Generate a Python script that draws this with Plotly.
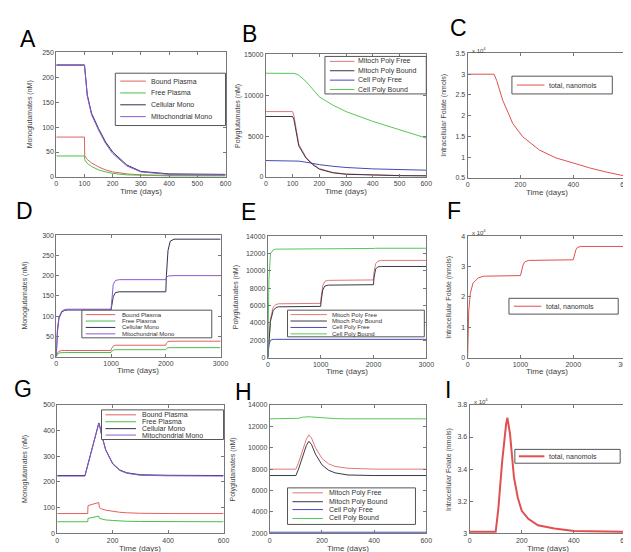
import plotly.graph_objects as go

W, H = 631, 552
FONT = "Liberation Sans, Arial, sans-serif"

# ---------------- data ----------------
mono_names = ["Bound Plasma", "Free Plasma", "Cellular Mono", "Mitochondrial Mono"]
poly_names = ["Mitoch Poly Free", "Mitoch Poly Bound", "Cell Poly Free", "Cell Poly Bound"]
total_name = "total, nanomols"

# Panel A (monoglutamates, 600 days)
t_a = [0, 100, 101, 110, 125, 150, 175, 200, 250, 300, 400, 500, 600]
a_bound = [80, 80, 42, 35, 28, 20, 14, 10, 6, 4, 3, 3, 3]
a_free = [42, 42, 34, 27, 21, 14, 10, 7, 4, 3, 2, 2, 2]
a_cell = [225, 225, 220, 165, 128, 97, 70, 50, 24, 11, 6, 5, 5]
a_mito = [224, 224, 218, 162, 125, 94, 67, 47, 22, 10, 5, 4, 4]

# Panel B (polyglutamates, 600 days)
t_b = [0, 100, 105, 113, 123, 150, 175, 200, 250, 300, 400, 500, 600]
b_mfree = [8000, 8000, 7500, 6100, 4000, 2400, 1600, 1000, 550, 350, 220, 160, 140]
b_mbound = [7400, 7400, 7000, 5700, 3800, 2300, 1500, 950, 500, 320, 200, 150, 130]
b_cfree = [2000, 2000, 1990, 1970, 1930, 1800, 1650, 1500, 1300, 1150, 980, 880, 820]
b_cbound = [12700, 12700, 12680, 12600, 12450, 11700, 10800, 9800, 8800, 8000, 6800, 5800, 4750]

# Panel C (total folate, x10^4 nmols)
t_c = [0, 100, 110, 133, 171, 209, 272, 335, 399, 462, 525, 600]
c_total = [3.0, 3.0, 2.85, 2.37, 1.81, 1.49, 1.17, 0.98, 0.86, 0.74, 0.64, 0.54]

# Panel D (monoglutamates, 3000 days)
t_d = [0, 20, 50, 100, 150, 200, 1000, 1010, 1040, 1080, 1150, 2000, 2010, 2040, 2080, 2150, 3000]
d_bound = [0, 9, 13, 15, 15, 15, 15, 20, 26, 28, 28, 28, 33, 37, 38, 38, 38]
d_free = [0, 6, 9, 10, 10, 10, 10, 13, 16, 17, 17, 17, 20, 22, 22, 22, 22]
d_cell = [0, 60, 95, 110, 114, 115, 115, 125, 148, 158, 160, 160, 200, 262, 285, 290, 290]
d_mito = [0, 65, 98, 112, 116, 117, 117, 140, 178, 188, 190, 190, 195, 199, 200, 200, 200]

# Panel E (polyglutamates, 3000 days)
t_e = [0, 20, 50, 100, 150, 200, 1000, 1010, 1040, 1080, 1150, 2000, 2010, 2040, 2080, 2150, 3000]
e_mfree = [0, 2500, 4500, 5800, 6100, 6200, 6250, 7000, 8300, 8800, 8900, 8950, 9800, 10800, 11100, 11200, 11200]
e_mbound = [0, 2300, 4200, 5400, 5750, 5850, 5900, 6600, 7800, 8250, 8350, 8400, 9200, 10200, 10450, 10500, 10500]
e_cfree = [0, 1500, 2000, 2100, 2100, 2100, 2100, 2100, 2100, 2100, 2100, 2100, 2100, 2100, 2100, 2100, 2100]
e_cbound = [0, 9000, 12000, 12400, 12500, 12500, 12500, 12520, 12540, 12550, 12550, 12560, 12580, 12600, 12600, 12600, 12600]

# Panel F (total folate, x10^4 nmols)
t_f = [0, 10, 20, 50, 100, 200, 300, 1000, 1020, 1050, 1080, 1150, 2000, 2020, 2050, 2080, 2150, 3000]
f_total = [0, 0.9, 1.5, 2.1, 2.45, 2.62, 2.68, 2.70, 2.85, 3.05, 3.15, 3.20, 3.22, 3.37, 3.55, 3.63, 3.66, 3.66]

# Panel G (monoglutamates, pulse)
t_g = [0, 100, 110, 111, 125, 140, 150, 152, 160, 175, 200, 225, 250, 300, 400, 600]
g_bound = [77, 77, 77, 108, 112, 116, 120, 100, 95, 90, 85, 82, 80, 78, 77, 77]
g_free = [45, 45, 45, 58, 61, 64, 67, 58, 55, 52, 50, 48, 47, 46, 45, 45]
g_cell = [225, 225, 266, 270, 327, 389, 430, 425, 385, 325, 272, 247, 236, 228, 226, 225]
g_mito = [223, 223, 264, 268, 325, 387, 428, 423, 383, 323, 270, 245, 234, 226, 224, 223]

# Panel H (polyglutamates, pulse)
t_h = [0, 100, 110, 125, 140, 150, 160, 175, 200, 225, 250, 300, 400, 600]
h_mfree = [8000, 8000, 8600, 9800, 10800, 11200, 10900, 10000, 9000, 8500, 8250, 8080, 8000, 8000]
h_mbound = [7400, 7400, 8000, 9200, 10200, 10600, 10300, 9400, 8400, 7900, 7650, 7450, 7400, 7400]
h_cfree = [2100, 2100, 2100, 2100, 2100, 2100, 2100, 2100, 2100, 2100, 2100, 2100, 2100, 2100]
h_cbound = [12700, 12700, 12750, 12850, 12900, 12900, 12880, 12850, 12800, 12750, 12720, 12700, 12700, 12700]

# Panel I (total folate, x10^4 nmols)
t_i = [0, 100, 110, 125, 140, 145, 155, 170, 185, 200, 225, 262, 325, 400, 600]
i_total = [3.01, 3.01, 3.15, 3.45, 3.68, 3.72, 3.62, 3.35, 3.22, 3.14, 3.09, 3.05, 3.03, 3.015, 3.01]

mono_colors = ["#e06060", "#48c048", "#303050", "#8a5ad0"]
poly_colors = ["#e07878", "#383848", "#4848b8", "#58c858"]
total_color = "#e05050"

# ---------------- layout helpers ----------------
def px_x(x):
    return x / W

def px_y(y):
    return 1 - y / H

boxes = {
    "A": (47, 41, 219, 167), "B": (260, 43, 423, 167), "C": (465, 42, 626, 168),
    "D": (47, 226, 214, 349), "E": (262, 227, 423, 350), "F": (465, 227, 626, 350),
    "G": (48, 398, 217, 528), "H": (264, 398, 423, 528), "I": (467, 398, 626, 528),
}
order = ["A", "B", "C", "D", "E", "F", "G", "H", "I"]

axis_cfg = {
    "A": dict(xr=[0, 600], xt=[0, 100, 200, 300, 400, 500, 600], yr=[0, 250], yt=[0, 50, 100, 150, 200, 250]),
    "B": dict(xr=[0, 600], xt=[0, 100, 200, 300, 400, 500, 600], yr=[0, 15000], yt=[0, 5000, 10000, 15000]),
    "C": dict(xr=[0, 600], xt=[0, 200, 400, 600], yr=[0.5, 3.5], yt=[0.5, 1, 1.5, 2, 2.5, 3, 3.5]),
    "D": dict(xr=[0, 3000], xt=[0, 1000, 2000, 3000], yr=[0, 300], yt=[0, 50, 100, 150, 200, 250, 300]),
    "E": dict(xr=[0, 3000], xt=[0, 1000, 2000, 3000], yr=[0, 14000], yt=[0, 2000, 4000, 6000, 8000, 10000, 12000, 14000]),
    "F": dict(xr=[0, 3000], xt=[0, 1000, 2000, 3000], yr=[0, 4], yt=[0, 1, 2, 3, 4]),
    "G": dict(xr=[0, 600], xt=[0, 200, 400, 600], yr=[0, 500], yt=[0, 100, 200, 300, 400, 500]),
    "H": dict(xr=[0, 600], xt=[0, 200, 400, 600], yr=[2000, 14000], yt=[2000, 4000, 6000, 8000, 10000, 12000, 14000]),
    "I": dict(xr=[0, 600], xt=[0, 200, 400, 600], yr=[3.0, 3.8], yt=[3.0, 3.2, 3.4, 3.6, 3.8]),
}

series = {
    "A": (t_a, [a_bound, a_free, a_cell, a_mito], mono_colors),
    "B": (t_b, [b_mfree, b_mbound, b_cfree, b_cbound], poly_colors),
    "C": (t_c, [c_total], [total_color]),
    "D": (t_d, [d_bound, d_free, d_cell, d_mito], mono_colors),
    "E": (t_e, [e_mfree, e_mbound, e_cfree, e_cbound], poly_colors),
    "F": (t_f, [f_total], [total_color]),
    "G": (t_g, [g_bound, g_free, g_cell, g_mito], mono_colors),
    "H": (t_h, [h_mfree, h_mbound, h_cfree, h_cbound], poly_colors),
    "I": (t_i, [i_total], [total_color]),
}

fig = go.Figure()
layout = dict(width=W, height=H, margin=dict(l=0, r=0, t=0, b=0),
              paper_bgcolor="white", plot_bgcolor="white", showlegend=False,
              font=dict(family=FONT, size=7, color="#444"))

for i, p in enumerate(order):
    n = i + 1
    xs = "" if n == 1 else str(n)
    l, t, r, b = boxes[p]
    cfg = axis_cfg[p]
    common = dict(showline=True, linecolor="#777", linewidth=1, mirror="ticks",
                  ticks="inside", ticklen=3, tickcolor="#777", showgrid=False,
                  zeroline=False, tickfont=dict(size=7, color="#444", family=FONT))
    layout["xaxis" + xs] = dict(domain=[px_x(l), px_x(r)], range=cfg["xr"], tickvals=cfg["xt"],
                                tickformat="d", anchor="y" + xs, **common)
    layout["yaxis" + xs] = dict(domain=[px_y(b), px_y(t)], range=cfg["yr"], tickvals=cfg["yt"],
                                tickformat="d" if cfg["yr"][1] > 50 else "", anchor="x" + xs, **common)
    tt, ys, cols = series[p]
    lw = 2 if p == "I" else 1
    for yv, c in zip(ys, cols):
        fig.add_trace(go.Scatter(x=tt, y=yv, mode="lines", line=dict(color=c, width=lw),
                                 xaxis="x" + xs, yaxis="y" + xs, hoverinfo="skip"))

shapes = []
annots = []

def add_legend(box, names, colors, ys, lx0, lx1, tx, fs, lw=1):
    shapes.append(dict(type="rect", xref="paper", yref="paper",
                       x0=px_x(box[0]), x1=px_x(box[2]), y0=px_y(box[3]), y1=px_y(box[1]),
                       line=dict(color="#555", width=1), fillcolor="white", layer="above"))
    for nm, c, y in zip(names, colors, ys):
        shapes.append(dict(type="line", xref="paper", yref="paper",
                           x0=px_x(lx0), x1=px_x(lx1), y0=px_y(y), y1=px_y(y),
                           line=dict(color=c, width=lw), layer="above"))
        annots.append(dict(text=nm, x=px_x(tx), y=px_y(y), xref="paper", yref="paper",
                           xanchor="left", yanchor="middle", showarrow=False,
                           font=dict(size=fs, color="#333", family=FONT)))

add_legend((107, 62, 219, 115), mono_names, mono_colors, [70, 82, 94, 106], 112, 138, 141, 7)
add_legend((320, 45, 423, 83), poly_names, poly_colors, [50, 59.5, 69, 78.5], 325, 350, 352, 7)
add_legend((510, 65, 612, 83), [total_name], [total_color], [74], 515, 543, 546, 7)
add_legend((73, 302, 205, 330), mono_names, mono_colors, [306.5, 313, 319.5, 326], 77, 107, 112, 6)
add_legend((282, 302, 421, 329), poly_names, poly_colors, [306.5, 313, 319.5, 326], 285, 322, 325, 6)
add_legend((507, 290, 618, 306), [total_name], [total_color], [298], 512, 540, 543, 7)
add_legend((93, 403, 217, 433), mono_names, mono_colors, [408, 415, 422, 428.5], 97, 128, 132, 7)
add_legend((282, 482, 412, 519), poly_names, poly_colors, [487, 496, 504, 513], 287, 318, 322, 7)
add_legend((513, 443, 620, 457), [total_name], [total_color], [450], 517, 543, 546, 7, lw=2)

# panel letters
letters = {"A": (18, 27), "B": (243, 22), "C": (456, 16), "D": (15, 202), "E": (242, 203),
           "F": (451, 202), "G": (13, 382), "H": (237, 385), "I": (445, 383)}
for k, (x, y) in letters.items():
    annots.append(dict(text=k, x=px_x(x), y=px_y(y), xref="paper", yref="paper",
                       xanchor="center", yanchor="middle", showarrow=False,
                       font=dict(size=23, color="black", family=FONT)))

# axis titles
ytitles = {"A": ("Monoglutamates (nM)", 20), "B": ("Polyglutamates (nM)", 231),
           "C": ("Intracellular Folate (nmols)", 441), "D": ("Monoglutamates (nM)", 15),
           "E": ("Polyglutamates (nM)", 229), "F": ("Intracellular Folate (nmols)", 446),
           "G": ("Monoglutamates (nM)", 15), "H": ("Polyglutamates (nM)", 227),
           "I": ("Intracellular Folate (nmols)", 446)}
xtitle_y = {"A": 182, "B": 182, "C": 183, "D": 363, "E": 364, "F": 364, "G": 543, "H": 543, "I": 543}
for p in order:
    l, t, r, b = boxes[p]
    txt, xx = ytitles[p]
    annots.append(dict(text=txt, x=px_x(xx), y=px_y((t + b) / 2), xref="paper", yref="paper",
                       xanchor="center", yanchor="middle", textangle=-90, showarrow=False,
                       font=dict(size=7, color="#444", family=FONT)))
    annots.append(dict(text="Time (days)", x=px_x((l + r) / 2), y=px_y(xtitle_y[p]),
                       xref="paper", yref="paper", xanchor="center", yanchor="middle",
                       showarrow=False, font=dict(size=8, color="#444", family=FONT)))

# exponent labels
for p in ["C", "F", "I"]:
    l, t, r, b = boxes[p]
    annots.append(dict(text="x 10<sup>4</sup>", x=px_x(l + 2), y=px_y(t - 4), xref="paper", yref="paper",
                       xanchor="left", yanchor="middle", showarrow=False,
                       font=dict(size=6, color="#444", family=FONT)))

layout["shapes"] = shapes
layout["annotations"] = annots
fig.update_layout(**layout)
fig.write_html("out.html")
